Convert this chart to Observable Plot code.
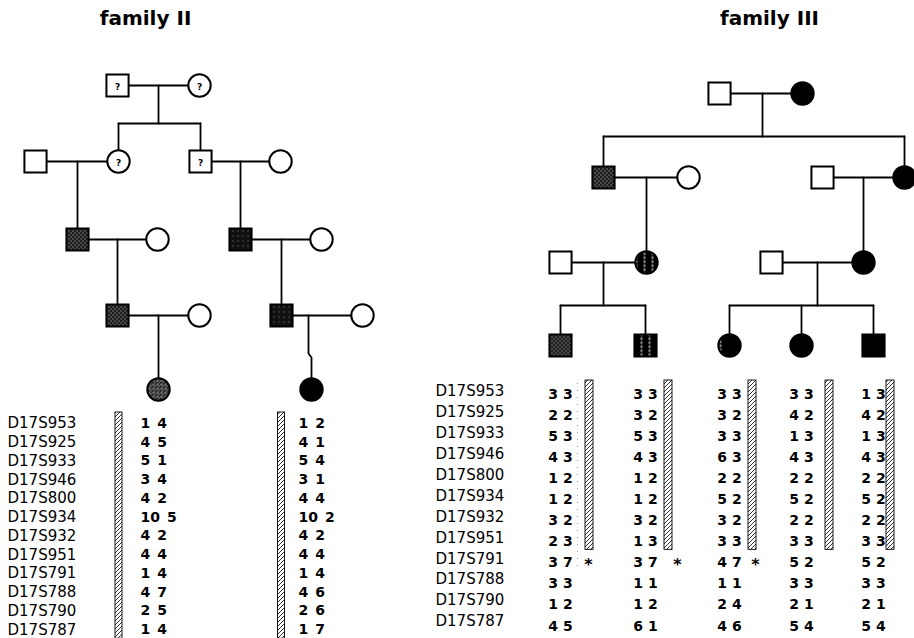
<!DOCTYPE html>
<html><head><meta charset="utf-8">
<script src="https://cdn.jsdelivr.net/npm/d3@7"></script>
<script src="https://cdn.jsdelivr.net/npm/@observablehq/plot@0.6"></script>
<style>html,body{margin:0;padding:0;background:#fff;}</style>
</head><body><div id="chart"></div>
<script>
// ---------------- data ----------------
const titles = ["family II", "family III"];
const markers = ["D17S953","D17S925","D17S933","D17S946","D17S800","D17S934","D17S932","D17S951","D17S791","D17S788","D17S790","D17S787"];

// family II haplotypes (two affected descendants)
const famIIHaplo1 = ["1 4","4 5","5 1","3 4","4 2","10 5","4 2","4 4","1 4","4 7","2 5","1 4"];
const famIIHaplo2 = ["1 2","4 1","5 4","3 1","4 4","10 2","4 2","4 4","1 4","4 6","2 6","1 7"];

// family III haplotypes (five children)
const famIIIHaplo1 = ["33","22","53","43","12","12","32","23","37","33","12","45"];
const famIIIHaplo2 = ["33","32","53","43","12","12","32","13","37","11","12","61"];
const famIIIHaplo3 = ["33","32","33","63","22","52","32","33","47","11","24","46"];
const famIIIHaplo4 = ["33","42","13","43","22","52","22","33","52","33","21","54"];
const famIIIHaplo5 = ["13","42","13","43","22","52","22","33","52","33","21","54"];
const famIIIStarred = [true, true, true, false, false];   // asterisk at D17S791
const famIIBarMarkers = markers.slice(0, 12);
const famIIIBarMarkers = markers.slice(0, 8);

// pedigree individuals: id, sex, generation, status
const famIINodes = [
  {id:"I1",  sex:"M", gen:0, status:"unknown"},
  {id:"I2",  sex:"F", gen:0, status:"unknown"},
  {id:"II1", sex:"M", gen:1, status:"normal"},
  {id:"II2", sex:"F", gen:1, status:"unknown"},
  {id:"II3", sex:"M", gen:1, status:"unknown"},
  {id:"II4", sex:"F", gen:1, status:"normal"},
  {id:"III1",sex:"M", gen:2, status:"stippled"},
  {id:"III2",sex:"F", gen:2, status:"normal"},
  {id:"III3",sex:"M", gen:2, status:"stippledDark"},
  {id:"III4",sex:"F", gen:2, status:"normal"},
  {id:"IV1", sex:"M", gen:3, status:"stippled"},
  {id:"IV2", sex:"F", gen:3, status:"normal"},
  {id:"IV3", sex:"M", gen:3, status:"stippledDark"},
  {id:"IV4", sex:"F", gen:3, status:"normal"},
  {id:"V1",  sex:"F", gen:4, status:"stippledLight"},
  {id:"V2",  sex:"F", gen:4, status:"affected"}
];
const famIIUnions = [
  {a:"I1",  b:"I2",  kids:["II2","II3"]},
  {a:"II1", b:"II2", kids:["III1"]},
  {a:"II3", b:"II4", kids:["III3"]},
  {a:"III1",b:"III2",kids:["IV1"]},
  {a:"III3",b:"III4",kids:["IV3"]},
  {a:"IV1", b:"IV2", kids:["V1"]},
  {a:"IV3", b:"IV4", kids:["V2"]}
];
const famIIINodes = [
  {id:"I1",  sex:"M", gen:0, status:"normal"},
  {id:"I2",  sex:"F", gen:0, status:"affected"},
  {id:"II1", sex:"M", gen:1, status:"stippled"},
  {id:"II2", sex:"F", gen:1, status:"normal"},
  {id:"II3", sex:"M", gen:1, status:"normal"},
  {id:"II4", sex:"F", gen:1, status:"affected"},
  {id:"III1",sex:"M", gen:2, status:"normal"},
  {id:"III2",sex:"F", gen:2, status:"striped"},
  {id:"III3",sex:"M", gen:2, status:"normal"},
  {id:"III4",sex:"F", gen:2, status:"affected"},
  {id:"IV1", sex:"M", gen:3, status:"stippled"},
  {id:"IV2", sex:"M", gen:3, status:"striped"},
  {id:"IV3", sex:"F", gen:3, status:"oneLine"},
  {id:"IV4", sex:"F", gen:3, status:"affected"},
  {id:"IV5", sex:"M", gen:3, status:"affected"}
];
const famIIIUnions = [
  {a:"I1",  b:"I2",  kids:["II1","II4"]},
  {a:"II1", b:"II2", kids:["III2"]},
  {a:"II3", b:"II4", kids:["III4"]},
  {a:"III1",b:"III2",kids:["IV1","IV2"]},
  {a:"III3",b:"III4",kids:["IV3","IV4","IV5"]}
];

// ---------------- layout (positions, kept apart from data) ----------------
const famIIX = {I1:117,I2:199,II1:35,II2:118,II3:200,II4:280,III1:77,III2:157,III3:240,III4:321,IV1:117,IV2:199,IV3:281,IV4:362,V1:158,V2:311};
const famIIGenY = [85, 161, 239, 315, 389];
const famIIDrop = [158, 77, 240, 117, 281, 158, 308];
const famIISib = [123, null, null, null, null, null, 353];
const famIIIX = {I1:719,I2:802,II1:603,II2:688,II3:822,II4:904,III1:560,III2:646,III3:771,III4:863,IV1:560,IV2:645,IV3:729,IV4:801,IV5:873};
const famIIIGenY = [93, 177, 262, 345];
const famIIIDrop = [762, 646, 863, 603, 817];
const famIIISib = [136, null, null, 305, 305];

const fills = {
  normal:"white", unknown:"white", affected:"black",
  stippled:"url(#stipA)", stippledDark:"url(#stipB)", stippledLight:"url(#stipC)",
  striped:"url(#stripes)", oneLine:"url(#oneline)"
};

function place(nodes, X, genY) {
  return nodes.map(d => ({...d, px: X[d.id], py: genY[d.gen]}));
}
function segments(nodes, unions, drops, sibs, fam) {
  const byId = new Map(nodes.map(d => [d.id, d]));
  const pts = [];
  unions.forEach((u, i) => {
    const a = byId.get(u.a), b = byId.get(u.b);
    const k = `${fam}-${i}`;
    pts.push({k:k+"m", x:a.px, y:a.py}, {k:k+"m", x:b.px, y:b.py});
    const kids = u.kids.map(id => byId.get(id));
    const dx = drops[i];
    if (kids.length > 1) {
      const sy = sibs[i];
      pts.push({k:k+"d", x:dx, y:a.py}, {k:k+"d", x:dx, y:sy});
      const xs = kids.map(c => c.px);
      pts.push({k:k+"s", x:d3.min(xs), y:sy}, {k:k+"s", x:d3.max(xs), y:sy});
      kids.forEach((c, j) => pts.push({k:k+"c"+j, x:c.px, y:sy}, {k:k+"c"+j, x:c.px, y:c.py}));
    } else {
      const c = kids[0];
      if (sibs[i] != null && c.px !== dx) {
        const jy = sibs[i];
        pts.push({k:k+"d", x:dx, y:a.py}, {k:k+"d", x:dx, y:jy}, {k:k+"d", x:c.px, y:jy+4}, {k:k+"d", x:c.px, y:c.py});
      } else {
        pts.push({k:k+"d", x:dx, y:a.py}, {k:k+"d", x:c.px, y:c.py});
      }
    }
  });
  return pts;
}

const nII = place(famIINodes, famIIX, famIIGenY);
const nIII = place(famIIINodes, famIIIX, famIIIGenY);
const allNodes = nII.concat(nIII);
const segs = segments(nII, famIIUnions, famIIDrop, famIISib, "II").concat(segments(nIII, famIIIUnions, famIIIDrop, famIIISib, "III"));

// table layout
const famIIRowY = i => 423 + i * 18.75;
const famIIIRowLabelY = i => 391 + i * 20.9;
const famIIIRowValY = i => 394 + i * 21.05;
const famIIValX = [140, 298];
const famIIBarX = [118.5, 281];
const famIIIValX = [560, 645, 729, 801, 873];
const famIIIBarX = [589, 668, 752, 829, 890];
const famIIIStarX = [588, 677, 755];

const famIIVals = [famIIHaplo1, famIIHaplo2].flatMap((h, c) => h.map((v, i) => ({v: v.replace(" ", "\u2002"), x:famIIValX[c], y:famIIRowY(i)})));
const famIIIVals = [famIIIHaplo1, famIIIHaplo2, famIIIHaplo3, famIIIHaplo4, famIIIHaplo5]
  .flatMap((h, c) => h.map((v, i) => ({v: v.split("").join(" "), x:famIIIValX[c], y:famIIIRowValY(i)})));
const famIIBars = famIIBarX.map(x => ({x1:x-3.5, x2:x+3.5, y1:412, y2:famIIRowY(famIIBarMarkers.length-1)+9}));
const famIIIBars = famIIIBarX.map(x => ({x1:x-4, x2:x+4, y1:380, y2:famIIIRowValY(famIIIBarMarkers.length-1)+8}));
const starRow = markers.indexOf("D17S791");
const stars = famIIIStarred.map((s, c) => ({s, c})).filter(d => d.s).map(d => ({x:famIIIStarX[d.c], y:famIIIRowValY(starRow)}));

const font = "DejaVu Sans";
const svg = Plot.plot({
  width: 914, height: 638, margin: 0,
  x: {type:"linear", domain:[0,914], range:[0,914], axis:null},
  y: {type:"linear", domain:[0,638], range:[0,638], axis:null},
  color: {type:"identity"},
  style: {background:"white", fontFamily: font},
  marks: [
    Plot.text(titles, {x:[145, 769], y:[18, 18], text:d=>d, fontSize:20, fontWeight:"bold", fill:"black"}),
    Plot.line(segs, {x:"x", y:"y", z:"k", stroke:"black", strokeWidth:1.8, curve:"linear"}),
    Plot.dot(allNodes.filter(d=>d.sex==="M"), {x:"px", y:"py", symbol:"square", r:12.5, fill:d=>fills[d.status], stroke:"black", strokeWidth:2}),
    Plot.dot(allNodes.filter(d=>d.sex==="F"), {x:"px", y:"py", symbol:"circle", r:11.2, fill:d=>fills[d.status], stroke:"black", strokeWidth:2}),
    Plot.text(allNodes.filter(d=>d.status==="unknown"), {x:"px", y:"py", text:()=>"?", dy:2, fontSize:9, fontWeight:"bold", fill:"black"}),
    // family II table
    Plot.text(markers, {x:7, y:(d,i)=>famIIRowY(i), text:d=>d, textAnchor:"start", fontSize:15, fill:"black"}),
    Plot.rect(famIIBars, {x1:"x1", x2:"x2", y1:"y1", y2:"y2", fill:"url(#hatch)", stroke:"black", strokeWidth:0.9}),
    Plot.text(famIIVals, {x:"x", y:"y", text:"v", textAnchor:"start", fontSize:14, fontWeight:"bold", fill:"black"}),
    // family III table
    Plot.text(markers, {x:435, y:(d,i)=>famIIIRowLabelY(i), text:d=>d, textAnchor:"start", fontSize:15, fill:"black"}),
    Plot.ruleX([577], {y1:383, y2:famIIIRowValY(starRow)+6, stroke:"#999", strokeWidth:1, strokeDasharray:"1 6"}),
    Plot.rect(famIIIBars, {x1:"x1", x2:"x2", y1:"y1", y2:"y2", fill:"url(#hatch)", stroke:"black", strokeWidth:0.9}),
    Plot.text(famIIIVals, {x:"x", y:"y", text:"v", fontSize:14, fontWeight:"bold", fill:"black"}),
    Plot.text(stars, {x:"x", y:"y", text:()=>"*", dy:2, fontSize:16, fontWeight:"bold", fill:"black"})
  ]
});

// patterns
const defs = d3.select(svg).insert("defs", ":first-child");
const hatch = defs.append("pattern").attr("id","hatch").attr("patternUnits","userSpaceOnUse").attr("width",4).attr("height",4);
hatch.append("rect").attr("width",4).attr("height",4).attr("fill","white");
hatch.append("path").attr("d","M-1,1 L1,-1 M0,4 L4,0 M3,5 L5,3").attr("stroke","black").attr("stroke-width",0.8);

function stipple(id, bg, dot, pts, size) {
  const p = defs.append("pattern").attr("id",id).attr("patternUnits","userSpaceOnUse").attr("width",size).attr("height",size);
  p.append("rect").attr("width",size).attr("height",size).attr("fill",bg);
  pts.forEach(([x,y]) => p.append("rect").attr("x",x).attr("y",y).attr("width",1).attr("height",1).attr("fill",dot));
}
stipple("stipA", "#1e1e1e", "#c8c8c8", [[1,1],[3,3]], 4);
stipple("stipB", "#111", "#8a8a8a", [[2,1]], 5);
stipple("stipC", "#2a2a2a", "#d0d0d0", [[0,0],[2,1],[1,3]], 4);

const stripes = defs.append("pattern").attr("id","stripes").attr("patternUnits","userSpaceOnUse").attr("width",8).attr("height",4);
stripes.append("rect").attr("width",8).attr("height",4).attr("fill","black");
stripes.append("rect").attr("x",3.4).attr("y",0).attr("width",1.2).attr("height",2.5).attr("fill","white");

const one = defs.append("pattern").attr("id","oneline").attr("patternUnits","userSpaceOnUse").attr("x",-20).attr("y",0).attr("width",40).attr("height",4);
one.append("rect").attr("width",40).attr("height",4).attr("fill","black");
one.append("rect").attr("x",19.4).attr("y",0).attr("width",1.2).attr("height",2.5).attr("fill","white");

document.getElementById("chart").appendChild(svg);
</script>
</body></html>
